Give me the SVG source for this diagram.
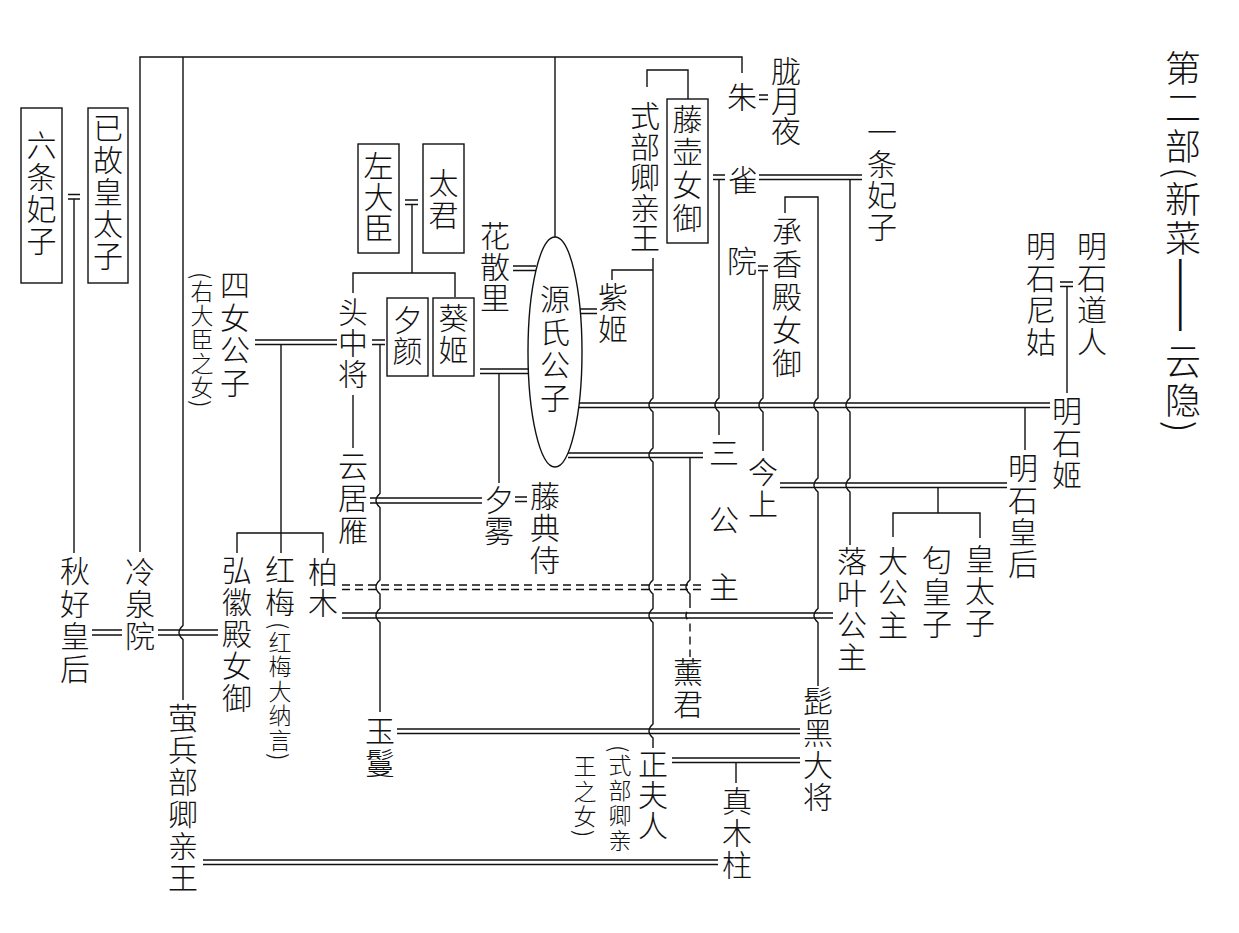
<svg xmlns="http://www.w3.org/2000/svg" width="1239" height="933" viewBox="0 0 1239 933">
<style>
.t{font-family:"Noto Sans CJK SC","Noto Sans CJK JP",sans-serif;font-size:30px;font-weight:300;writing-mode:vertical-rl;fill:#111}
.s{font-size:23px}
.ti{font-size:36px}
.dash{font-family:"Liberation Sans",sans-serif;letter-spacing:0}
.ln{stroke:#111;stroke-width:1.4;fill:none}
.d{stroke-dasharray:8 5}
.bx{fill:none;stroke:#111;stroke-width:1.4}
</style>
<rect width="1239" height="933" fill="#fff"/>
<g id="connectors">
<path class="ln" d="M140,552 V57 H742 V73"/>
<path class="ln" d="M183,57 V625.5 Q175,632.5 183,639.5 V700"/>
<path class="ln" d="M555,57 V237"/>
<path class="ln" d="M68,194.5 H80 M68,199 H80 M74,199 V553"/>
<path class="ln" d="M405,200 H418 M405,204.5 H418 M412,204.5 V273 M353,293 V273 H455 V297"/>
<path class="ln" d="M513,266 H536 M513,270.5 H536"/>
<path class="ln" d="M580,309 H597 M580,313.5 H597"/>
<path class="ln" d="M612,280 V270 H653"/>
<path class="ln" d="M653,258 V398 Q645,405 653,412 V448 Q645,455 653,462 V580 Q645,587 653,594 V608.5 Q645,615.5 653,622.5 V724 Q645,731 653,738 V748"/>
<path class="ln" d="M647,87 V70 H688 V99"/>
<path class="ln" d="M759,95 H768 M759,99.5 H768"/>
<path class="ln" d="M713,175 H725 M713,179.5 H725 M719,179.5 V398 Q711,405 719,412 V435"/>
<path class="ln" d="M759,175 H862 M759,179.5 H862 M850,179.5 V398 Q842,405 850,412 V478 Q842,485 850,492 V545"/>
<path class="ln" d="M785,213 V197 H818 V398 Q810,405 818,412 V478 Q810,485 818,492 V608.5 Q810,615.5 818,622.5 V686"/>
<path class="ln" d="M758,266 H768 M758,270.5 H768 M763,270.5 V398 Q755,405 763,412 V451"/>
<path class="ln" d="M1060,282 H1073 M1060,286.5 H1073 M1067,286.5 V393"/>
<path class="ln" d="M579,403 H1050 M579,407.5 H1050 M1025,407.5 V450"/>
<path class="ln" d="M568,453 H703 M568,457.5 H703 M690,457.5 V580 Q682,587 690,594 V600"/>
<path class="ln d" d="M690,600 V608.5 Q682,615.5 690,622.5 V657"/>
<path class="ln d" d="M342,585 H703 M342,589.5 H703"/>
<path class="ln" d="M342,613 H833 M342,618 H833"/>
<path class="ln" d="M255,340 H337 M255,344.5 H337 M281,344.5 V553 M237,553 V533 H323 V553"/>
<path class="ln" d="M372,340 H385 M372,344.5 H385 M380,344.5 V493.5 Q372,500.5 380,507.5 V580 Q372,587 380,594 V608.5 Q372,615.5 380,622.5 V712"/>
<path class="ln" d="M480,369 H529 M480,373.5 H529 M499,373.5 V483"/>
<path class="ln" d="M353,395 V448"/>
<path class="ln" d="M370,498 H482 M370,503 H482"/>
<path class="ln" d="M515,497 H527 M515,501.5 H527"/>
<path class="ln" d="M780,483 H1007 M780,487.5 H1007 M938,487.5 V513 M893,537 V513 H980 V538"/>
<path class="ln" d="M92,630 H122 M92,635 H122"/>
<path class="ln" d="M158,630 H218 M158,635 H218"/>
<path class="ln" d="M397,729 H800 M397,733.5 H800"/>
<path class="ln" d="M672,758 H800 M672,762.5 H800 M736,762.5 V783"/>
<path class="ln" d="M203,860 H718 M203,864.5 H718"/>
</g>
<g id="title"><text class="t ti" x="1183" y="50" letter-spacing="3">第二部(新菜<tspan class="dash">——</tspan><tspan dy="12">云隐)</tspan></text></g>
<g id="n-liutiao"><rect class="bx" x="21" y="108" width="41" height="175"/><text class="t" x="41.5" y="130" letter-spacing="2">六条妃子</text></g>
<g id="n-gukou"><rect class="bx" x="88" y="108" width="40" height="175"/><text class="t" x="108" y="113" letter-spacing="2">已故皇太子</text></g>
<g id="n-zuodachen"><rect class="bx" x="358" y="144" width="41" height="109"/><text class="t" x="378.5" y="151" letter-spacing="1">左大臣</text></g>
<g id="n-taijun"><rect class="bx" x="423" y="144" width="41" height="109"/><text class="t" x="443.5" y="168" letter-spacing="2">太君</text></g>
<g id="n-xiyan"><rect class="bx" x="387" y="298" width="41" height="78"/><text class="t" x="407.5" y="305" letter-spacing="1">夕颜</text></g>
<g id="n-kuiji"><rect class="bx" x="433" y="298" width="41" height="78"/><text class="t" x="453.5" y="303" letter-spacing="2">葵姬</text></g>
<g id="n-tenghu"><rect class="bx" x="667" y="99" width="41" height="144"/><text class="t" x="687.5" y="104" letter-spacing="3">藤壶女御</text></g>
<g id="n-genji"><ellipse class="bx" cx="555" cy="352" rx="27" ry="115"/><text class="t" x="555" y="284" letter-spacing="3">源氏公子</text></g>
<g id="n-huasanli"><text class="t" x="495" y="221" letter-spacing="1">花散里</text></g>
<g id="n-ziji"><text class="t" x="613" y="282" letter-spacing="2">紫姬</text></g>
<g id="n-shibuqing"><text class="t" x="645" y="101" letter-spacing="0.5">式部卿亲王</text></g>
<g id="n-longyueye"><text class="t" x="786" y="56">胧月夜</text></g>
<g id="n-zhuqueyuan"><text class="t" x="742" y="82">朱</text><text class="t" x="743" y="165">雀</text><text class="t" x="742" y="246">院</text></g>
<g id="n-yitiao"><text class="t" x="882" y="117" letter-spacing="1.5">一条妃子</text></g>
<g id="n-chengxiang"><text class="t" x="787" y="216" letter-spacing="3">承香殿女御</text></g>
<g id="n-daoren"><text class="t" x="1092" y="231" letter-spacing="2">明石道人</text></g>
<g id="n-nigu"><text class="t" x="1041" y="231" letter-spacing="2">明石尼姑</text></g>
<g id="n-mingshiji"><text class="t" x="1067" y="396" letter-spacing="2">明石姬</text></g>
<g id="n-mingshihou"><text class="t" x="1023" y="453" letter-spacing="2">明石皇后</text></g>
<g id="n-sinv"><text class="t" x="235" y="270" letter-spacing="2.5">四女公子</text><text class="t s" x="202" y="272" letter-spacing="1">(右大臣之女)</text></g>
<g id="n-touzhongjiang"><text class="t" x="353" y="297" letter-spacing="1">头中将</text></g>
<g id="n-yunjuyan"><text class="t" x="353" y="451" letter-spacing="2">云居雁</text></g>
<g id="n-xiwu"><text class="t" x="499" y="485" letter-spacing="1">夕雾</text></g>
<g id="n-tengdianshi"><text class="t" x="545" y="481" letter-spacing="2">藤典侍</text></g>
<g id="n-sangongzhu"><text class="t" x="724" y="438">三</text><text class="t" x="724" y="505">公</text><text class="t" x="724" y="572">主</text></g>
<g id="n-jinshang"><text class="t" x="763" y="457" letter-spacing="2">今上</text></g>
<g id="n-dagongzhu"><text class="t" x="893" y="546" letter-spacing="2">大公主</text></g>
<g id="n-niuhuangzi"><text class="t" x="937" y="545" letter-spacing="2">匂皇子</text></g>
<g id="n-huangtaizi"><text class="t" x="980" y="544" letter-spacing="2">皇太子</text></g>
<g id="n-luoye"><text class="t" x="852" y="546" letter-spacing="2">落叶公主</text></g>
<g id="n-qiuhao"><text class="t" x="75" y="556" letter-spacing="2.5">秋好皇后</text></g>
<g id="n-lengquan"><text class="t" x="140" y="557" letter-spacing="2">冷泉院</text></g>
<g id="n-honghui"><text class="t" x="237" y="555" letter-spacing="2">弘徽殿女御</text></g>
<g id="n-hongmei"><text class="t" x="280" y="555" letter-spacing="2">红梅</text><text class="t s" x="280" y="622" letter-spacing="1.5">(红梅大纳言)</text></g>
<g id="n-baimu"><text class="t" x="323" y="557" letter-spacing="1">柏木</text></g>
<g id="n-yingbing"><text class="t" x="183" y="703" letter-spacing="2">萤兵部卿亲王</text></g>
<g id="n-yuman"><text class="t" x="380" y="716" letter-spacing="2">玉鬘</text></g>
<g id="n-xunjun"><text class="t" x="688" y="657" letter-spacing="2">薰君</text></g>
<g id="n-zihei"><text class="t" x="818" y="686" letter-spacing="2">髭黑大将</text></g>
<g id="n-zhengfuren"><text class="t" x="653" y="749" letter-spacing="1">正夫人</text><text class="t s" x="620" y="745" letter-spacing="2">(式部卿亲</text><text class="t s" x="585" y="755" letter-spacing="2">王之女)</text></g>
<g id="n-zhenmuzhu"><text class="t" x="737" y="786" letter-spacing="2">真木柱</text></g>
</svg>
